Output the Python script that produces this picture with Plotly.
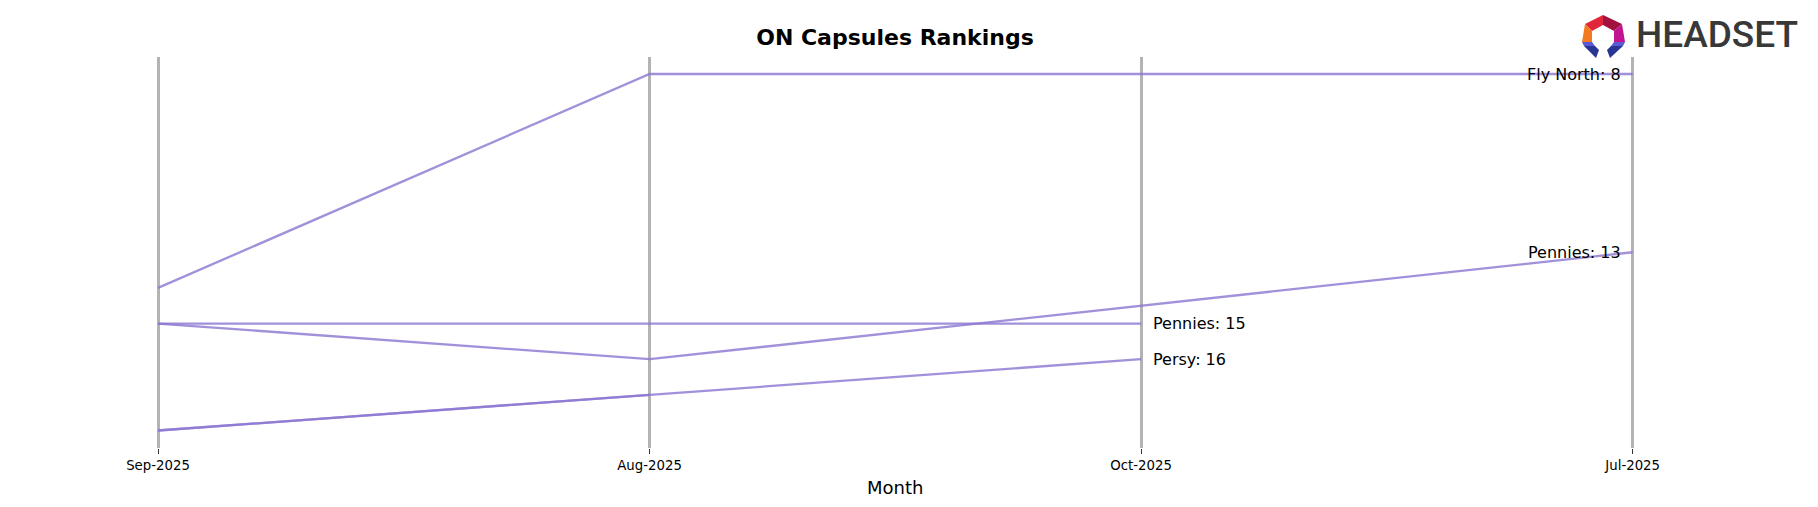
import plotly.graph_objects as go

# ---- data ----
months = ["Sep-2025", "Aug-2025", "Oct-2025", "Jul-2025"]
brand_names = ["Fly North", "Pennies", "Pennies", "Persy", "Persy"]
fly_north = [14, 8, 8, 8]
pennies_a = [15, 16, None, 13]
pennies_b = [15, 15, 15, None]
persy = [18, 17, 16, None]
persy_b = [18, 17, None, None]
series = [fly_north, pennies_a, pennies_b, persy, persy_b]
show_label = [True, True, True, True, False]

OFF = 8  # page body margin
W, H = 1818 - OFF, 507 - OFF
L, R, T, B = 100 - OFF, 128, 57 - OFF, 59
PW = W - L - R
PH = H - T - B


def px2paper(x, y):
    # x, y given in reference-image pixels
    x -= OFF
    y -= OFF
    return (x - L) / PW, (H - B - y) / PH


LINE = "rgba(140,120,210,0.82)"
FONT = "DejaVu Sans"

fig = go.Figure()
for name, vals in zip(brand_names, series):
    fig.add_trace(go.Scatter(
        x=months, y=vals, mode="lines", name=name,
        line=dict(color=LINE, width=2.3), connectgaps=True,
        showlegend=False, hoverinfo="skip",
    ))

annotations = []
for name, vals, lab in zip(brand_names, series, show_label):
    if not lab:
        continue
    idx = max(i for i, v in enumerate(vals) if v is not None)
    last = idx == len(months) - 1
    annotations.append(dict(
        x=months[idx], y=vals[idx], xref="x", yref="y",
        text=f"{name}: {vals[idx]}", showarrow=False,
        xanchor="right" if last else "left", yanchor="middle",
        xshift=-10 if last else 10,
        font=dict(family=FONT, size=16, color="black"),
    ))

# axis title
mx, my = px2paper(895, 487)
annotations.append(dict(x=mx, y=my, xref="paper", yref="paper", text="Month",
                        showarrow=False, xanchor="center", yanchor="middle",
                        font=dict(family=FONT, size=18, color="black")))
# logo text
hx, hy = px2paper(1634, 35)
annotations.append(dict(x=hx, y=hy, xref="paper", yref="paper", text="HEADSET",
                        showarrow=False, xanchor="left", yanchor="middle",
                        font=dict(family="Roboto", size=37, color="#383838", weight=500)))

# logo icon polygons (reference pixel coords)
logo_polys = [
    ([(1585, 24), (1603, 15), (1603, 25), (1592, 31)], "#e0263a"),
    ([(1603, 15), (1622, 24), (1614, 31), (1603, 25)], "#a3123e"),
    ([(1585, 24), (1592, 31), (1592, 42), (1582, 42)], "#f47a22"),
    ([(1622, 24), (1625, 42), (1614, 42), (1614, 31)], "#c0158e"),
    ([(1582, 42), (1592, 42), (1595, 46), (1584, 46)], "#5a5ad4"),
    ([(1584, 46), (1595, 46), (1599, 50), (1596, 58)], "#283593"),
    ([(1625, 42), (1614, 42), (1611, 46), (1623, 46)], "#5a5ad4"),
    ([(1623, 46), (1611, 46), (1607, 50), (1610, 58)], "#283593"),
]
shapes = []
for pts, col in logo_polys:
    pp = [px2paper(x, y) for x, y in pts]
    path = "M " + " L ".join(f"{a:.5f},{b:.5f}" for a, b in pp) + " Z"
    shapes.append(dict(type="path", path=path, xref="paper", yref="paper",
                       fillcolor=col, line=dict(width=0), layer="above"))

# axis ranges from reference pixel positions
sep_x, jul_x = 158 - OFF, 1632.7 - OFF
cat_w = (jul_x - sep_x) / 3
x_min = -(sep_x - L) / cat_w
x_max = 3 + (L + PW - jul_x) / cat_w
r8_y, r18_y = 74 - OFF, 430.5 - OFF
per_rank = (r18_y - r8_y) / 10
y_top = 8 - (r8_y - T) / per_rank
y_bot = 18 + (H - B - r18_y) / per_rank

fig.update_layout(
    width=W, height=H,
    margin=dict(l=L, r=R, t=T, b=B),
    paper_bgcolor="white", plot_bgcolor="white",
    title=dict(text="<b>ON Capsules Rankings</b>", x=(895 - OFF) / W, y=1 - (37 - OFF) / H,
               xref="container", yref="container", xanchor="center", yanchor="middle",
               font=dict(family=FONT, size=22, color="black")),
    xaxis=dict(type="category", categoryorder="array", categoryarray=months,
               range=[x_min, x_max], showgrid=True, gridcolor="#b3b3b3", gridwidth=2.5,
               zeroline=False, showline=False, ticks="outside", ticklen=5, tickwidth=1,
               tickcolor="#333333", tickfont=dict(family=FONT, size=13.3, color="black")),
    yaxis=dict(range=[y_bot, y_top], visible=False, showgrid=False, zeroline=False),
    annotations=annotations,
    shapes=shapes,
)

fig.write_html("out.html")
